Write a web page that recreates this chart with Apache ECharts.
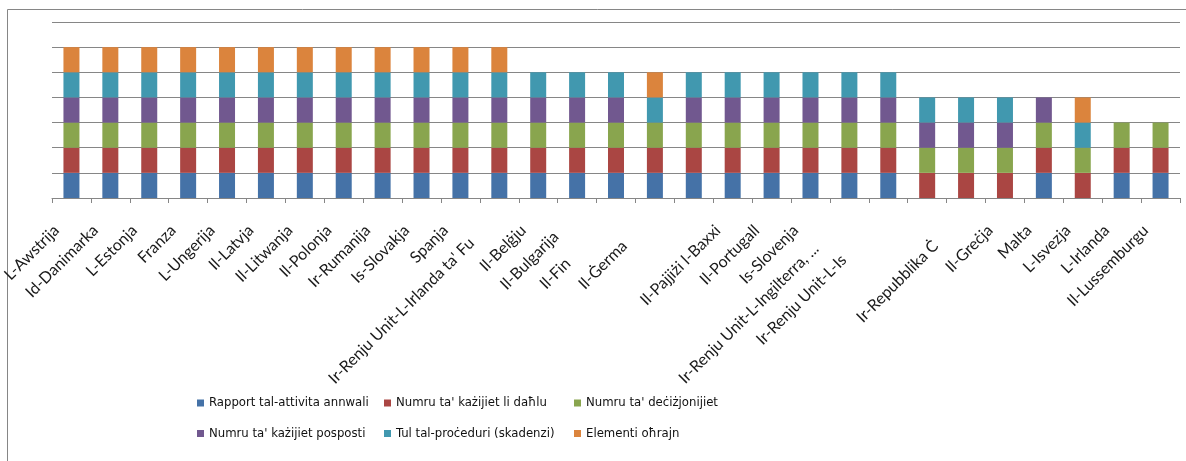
<!DOCTYPE html>
<html>
<head>
<meta charset="utf-8">
<script src="https://cdn.jsdelivr.net/npm/echarts@6/dist/echarts.min.js"></script>
<style>
html,body{margin:0;padding:0;background:#fff;}
#chart{width:1186px;height:461px;}
</style>
</head>
<body>
<div id="chart"></div>
<script>
// Category labels as visible in the reference (some are clipped there)
var categories = [
  "L-Awstrija", "Id-Danimarka", "L-Estonja", "Franza", "L-Ungerija", "Il-Latvja",
  "Il-Litwanja", "Il-Polonja", "Ir-Rumanija", "Is-Slovakja", "Spanja",
  "Ir-Renju Unit-L-Irlanda ta' Fu", "Il-Belġju", "Il-Bulgarija", "Il-Fin",
  "Il-Ġerma", "", "Il-Pajjiżi l-Baxxi", "Il-Portugall", "Is-Slovenja",
  "Ir-Renju Unit-L-Ingilterra, ...", "Ir-Renju Unit-L-Is", " ", "Ir-Repubblika Ċ",
  "Il-Greċja", "Malta", "L-Isvezja", "L-Irlanda", "Il-Lussemburgu"
];
var seriesNames = [
  "Rapport tal-attivita annwali",
  "Numru ta' każijiet li daħlu",
  "Numru ta' deċiżjonijiet",
  "Numru ta' każijiet posposti",
  "Tul tal-proċeduri (skadenzi)",
  "Elementi oħrajn"
];
var rapport   = [1,1,1,1,1,1,1,1,1,1,1,1, 1,1,1,1,1,1,1,1,1,1, 0,0,0,1,0,1,1];
var dahlu     = [1,1,1,1,1,1,1,1,1,1,1,1, 1,1,1,1,1,1,1,1,1,1, 1,1,1,1,1,1,1];
var decizjoni = [1,1,1,1,1,1,1,1,1,1,1,1, 1,1,1,1,1,1,1,1,1,1, 1,1,1,1,1,1,1];
var posposti  = [1,1,1,1,1,1,1,1,1,1,1,1, 1,1,1,0,1,1,1,1,1,1, 1,1,1,1,0,0,0];
var skadenzi  = [1,1,1,1,1,1,1,1,1,1,1,1, 1,1,1,1,1,1,1,1,1,1, 1,1,1,0,1,0,0];
var ohrajn    = [1,1,1,1,1,1,1,1,1,1,1,1, 0,0,0,1,0,0,0,0,0,0, 0,0,0,0,1,0,0];
var yTicks = [0,1,2,3,4,5,6,7];

// style: which labels are clipped at their end in the reference (extra offset)
var labelStyleKey = ['a','a','a','a','a','a','a','a','a','a','a','g','a','b','f','c','a','a','a','a','d','e','a','c','a','a','a','a','a'];

var colors = ['#4572A7','#AA4643','#89A54E','#71588F','#4198AF','#DB843D'];
var allData = [rapport, dahlu, decizjoni, posposti, skadenzi, ohrajn];

var chart = echarts.init(document.getElementById('chart'), null, {renderer:'canvas'});
var series = seriesNames.map(function(n, i){
  return {
    name: n, type: 'bar', stack: 'total', barWidth: 16,
    itemStyle: {color: colors[i]},
    data: allData[i]
  };
});
var labFont = {fontFamily: 'Lato', fontSize: 16, color: '#1a1a1a'};
function rp(p){ return Object.assign({padding:[0,p,0,0]}, labFont); }
var legendText = {fontFamily: '"Liberation Sans Narrow","DejaVu Sans Condensed",sans-serif', fontSize: 13, color:'#111', lineHeight: 16};
var legendPos = [[197,395],[384,395],[574,395],[197,425.5],[384,425.5],[574,425.5]];
var legends = seriesNames.map(function(n, i){
  return {
    data: [n], left: legendPos[i][0], top: legendPos[i][1], padding: 0,
    itemWidth: 7, itemHeight: 7, icon: 'rect', textStyle: legendText
  };
});

chart.setOption({
  animation: false,
  color: colors,
  graphic: [{
    type: 'rect', silent: true,
    shape: {x: 7.5, y: 9.5, width: 1200, height: 480},
    style: {fill: 'none', stroke: '#868686', lineWidth: 1}
  }],
  grid: {left: 52, right: 6, top: 22, bottom: 263, containLabel: false, outerBoundsMode: 'none'},
  legend: legends,
  xAxis: {
    type: 'category', data: categories,
    axisLine: {lineStyle: {color: '#868686', width: 1}},
    axisTick: {show: true, interval: 0, length: 5, lineStyle: {color: '#868686'}},
    axisLabel: {
      interval: 0, rotate: 45, margin: 15,
      formatter: function(v, i){ return v.trim() === '' ? '' : '{' + labelStyleKey[i] + '|' + v + '}'; },
      rich: {a: rp(21), b: rp(30), c: rp(43), d: rp(47), e: rp(63), f: rp(68), g: rp(39)}
    }
  },
  yAxis: {
    type: 'value', min: yTicks[0], max: yTicks[yTicks.length-1], interval: 1,
    axisLabel: {show: false}, axisLine: {show: false}, axisTick: {show: false},
    splitLine: {lineStyle: {color: '#868686', width: 1}}
  },
  series: series
});
</script>
</body>
</html>
